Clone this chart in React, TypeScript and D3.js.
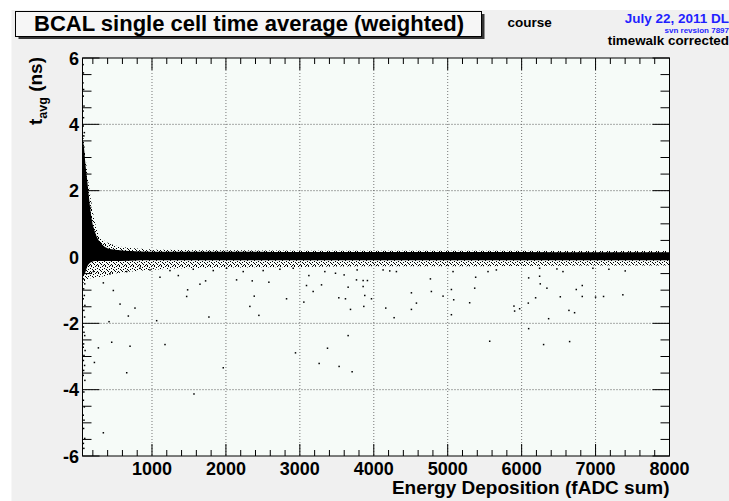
import * as d3 from "d3";

// dense core of the t_avg band (upper / lower edge)
const coreX = [60, 80, 100, 122, 150, 185, 230, 297, 432, 700, 1000, 2000, 3000, 4000, 5000, 6000, 7000, 8000];
const coreTop = [3.6, 3.3, 2.8, 2.35, 1.75, 1.14, 0.75, 0.45, 0.24, 0.18, 0.16, 0.16, 0.15, 0.15, 0.15, 0.15, 0.14, 0.14];
const coreBottom = [-0.6, -0.55, -0.45, -0.3, -0.2, -0.15, -0.12, -0.12, -0.12, -0.11, -0.1, -0.1, -0.1, -0.1, -0.1, -0.1, -0.1, -0.1];

// speckled halo around the core
const haloX = [60, 150, 300, 500, 800, 1200, 2000, 3000, 4000, 5000, 6000, 7000, 8000];
const haloTop = [3.9, 2.1, 0.6, 0.35, 0.26, 0.22, 0.2, 0.19, 0.19, 0.19, 0.19, 0.18, 0.18];
const haloBottom = [-0.8, -0.65, -0.6, -0.5, -0.42, -0.36, -0.32, -0.3, -0.28, -0.28, -0.27, -0.26, -0.26];

// isolated hits [energy, t_avg]
const outliers: [number, number][] = [
  [342, -0.78], [477, -1.01], [568, -1.42], [770, -1.54], [680, -1.78], [1356, -0.56],
  [1482, -0.99], [1469, -1.19], [1649, -0.82], [1725, -0.72], [1770, -1.81], [2144, -0.69],
  [2356, -0.72], [2383, -1.18], [2324, -1.49], [2446, -1.76], [2581, -0.76], [2820, -1.26],
  [455, -2.57], [703, -2.69], [1176, -2.64], [275, -2.74], [1063, -1.92], [419, -1.95],
  [3122, -0.56], [3090, -0.86], [3293, -0.84], [3180, -1.04], [3054, -1.36], [3653, -0.91],
  [3527, -1.23], [3617, -1.26], [3766, -0.69], [3856, -0.71], [3914, -0.71], [3856, -0.89],
  [3878, -1.16], [3865, -1.49], [3685, -1.58], [3969, -1.26], [4162, -1.54], [4275, -1.83],
  [4509, -1.08], [4577, -1.39], [4509, -1.58], [4766, -0.66], [4779, -1.04], [4937, -1.18],
  [5050, -0.98], [5081, -1.29], [5050, -1.74], [5297, -1.38], [5378, -0.61], [5365, -0.94],
  [5896, -1.48], [5905, -1.63], [5973, -1.56], [6095, -0.63], [6090, -1.39], [6189, -1.23],
  [6243, -0.58], [6252, -0.81], [6342, -0.94], [6365, -1.86], [6477, -0.36], [6559, -0.44],
  [6523, -1.2], [6640, -1.61], [6716, -1.68], [6739, -0.98], [6820, -0.86], [6820, -1.19],
  [7000, -1.21], [7108, -1.19], [7369, -1.14], [3653, -2.37], [3374, -2.75], [5568, -2.54],
  [6095, -2.16], [6297, -2.64], [6649, -2.55],
  [221, -3.18], [658, -3.49], [342, -5.3], [1568, -4.13], [1964, -3.34], [2941, -2.89],
  [3261, -3.21], [3531, -3.3], [3707, -3.46],
  [3338, -0.44], [3482, -0.49], [3599, -0.54], [3775, -0.39], [4126, -0.39], [4216, -0.42],
  [4306, -0.44], [5072, -0.44], [5545, -0.44], [5658, -0.39], [6243, -0.34], [6964, -0.34],
  [7180, -0.37], [7401, -0.42], [207, -0.44], [432, -0.51], [658, -0.44], [838, -0.34],
  [973, -0.39], [1108, -0.61], [1243, -0.41], [1558, -0.37], [1829, -0.41], [2009, -0.34],
  [2234, -0.44], [2504, -0.41], [2730, -0.37], [2910, -0.34],
];

// hits piled up at the lowest energies
const lowEdge: [number, number][] = [
  [72, -0.66], [90, -0.81], [75, -0.96], [85, -1.16], [70, -1.26], [92, -1.46], [78, -1.61],
  [88, -1.81], [72, -2.11], [80, -2.27], [90, -2.37], [75, -2.62], [70, -2.72], [95, -2.82],
  [80, -2.97], [72, -3.12], [88, -3.27], [75, -3.42], [70, -3.57], [92, -3.72], [78, -4.07],
  [72, -4.32], [85, -4.52], [70, -4.77], [80, -4.92], [75, -5.17], [90, -5.47], [72, -5.62],
  [78, -5.77], [68, 5.8], [72, 5.55], [66, 5.25], [75, 5.05], [70, 4.85], [80, 4.55],
  [68, 4.4], [74, 4.2], [70, 3.95], [85, 3.75], [78, 3.65],
];

const xTickValues = [1000, 2000, 3000, 4000, 5000, 6000, 7000, 8000];
const yTickValues = [-6, -4, -2, 0, 2, 4, 6];

const FONT = "'Liberation Sans', Arial, Helvetica, sans-serif";
const SPECKLE = [[0, 0], [4, 0], [2, 1], [6, 2], [1, 3], [4, 3], [2, 4], [3, 5], [6, 5], [0, 6], [5, 6]];

export default function App() {
  const left = 82.5;
  const right = 669.5;
  const top = 58;
  const bottom = 456;

  const x = d3.scaleLinear().domain([60, 8000]).range([left, right]);
  const y = d3.scaleLinear().domain([-6, 6]).range([bottom, top]);

  const coreArea = d3
    .area<number>()
    .x((d) => x(coreX[d]))
    .y0((d) => y(coreBottom[d]))
    .y1((d) => y(coreTop[d]))
    .curve(d3.curveMonotoneX);
  const haloArea = d3
    .area<number>()
    .x((d) => x(haloX[d]))
    .y0((d) => y(haloBottom[d]))
    .y1((d) => y(haloTop[d]))
    .curve(d3.curveMonotoneX);

  const xMinor = d3.range(200, 8001, 200).filter((v) => v % 1000 !== 0 && v > 60);
  const yMinor = d3.range(-6, 6.01, 0.5).filter((v) => v % 2 !== 0);

  return (
    <svg width={729} height={501} style={{ position: "absolute", left: 0, top: 0, display: "block" }}>
      <rect x={11.5} y={10} width={740} height={500} fill="#f0f0f0" />

      {/* title box */}
      <rect x={18.5} y={14} width={466} height={25} fill="#333" />
      <rect x={15.5} y={11.5} width={466} height={25} fill="#f6f6f6" stroke="#000" />
      <text x={249} y={31} textAnchor="middle" fontFamily={FONT} fontWeight="bold" fontSize={22}>
        BCAL single cell time average (weighted)
      </text>
      <text x={507.5} y={26.5} fontFamily={FONT} fontWeight="bold" fontSize={13.5}>
        course
      </text>
      <text x={729} y={23} textAnchor="end" fontFamily={FONT} fontWeight="bold" fontSize={13.5} fill="#1f1fff">
        July 22, 2011 DL
      </text>
      <text x={729} y={32.5} textAnchor="end" fontFamily={FONT} fontWeight="bold" fontSize={8} fill="#1f1fff">
        svn revsion 7897
      </text>
      <text x={729} y={45} textAnchor="end" fontFamily={FONT} fontWeight="bold" fontSize={13.4}>
        timewalk corrected
      </text>

      {/* plot area */}
      <defs>
        <pattern id="speckle" width={7} height={7} patternUnits="userSpaceOnUse">
          {SPECKLE.map(([px, py], i) => (
            <rect key={i} x={px} y={py} width={1} height={1} fill="#000" />
          ))}
        </pattern>
        <clipPath id="frame">
          <rect x={left} y={top} width={right - left} height={bottom - top} />
        </clipPath>
      </defs>
      <rect x={left} y={top} width={right - left} height={bottom - top} fill="#f6fbf8" />

      {/* grid */}
      {xTickValues.slice(0, -1).map((v) => (
        <line key={"gx" + v} x1={x(v)} x2={x(v)} y1={top} y2={bottom} stroke="#777" strokeDasharray="1,2" />
      ))}
      {yTickValues.slice(1, -1).map((v) => (
        <line key={"gy" + v} x1={left} x2={right} y1={y(v)} y2={y(v)} stroke="#555" strokeDasharray="1,2" />
      ))}

      <g clipPath="url(#frame)">
        <path d={haloArea(d3.range(haloX.length)) || ""} fill="url(#speckle)" />
        <path d={coreArea(d3.range(coreX.length)) || ""} fill="#000" />
        {outliers.concat(lowEdge).map(([ex, t], i) => (
          <rect key={i} x={x(ex) - 0.75} y={y(t) - 0.75} width={1.5} height={1.5} fill="#000" />
        ))}
      </g>

      {/* ticks */}
      {xTickValues.map((v) => (
        <g key={"tx" + v}>
          <line x1={x(v)} x2={x(v)} y1={bottom} y2={bottom - 12} stroke="#000" />
          <line x1={x(v)} x2={x(v)} y1={top} y2={top + 12} stroke="#000" />
          <text x={x(v)} y={474.5} textAnchor="middle" fontFamily={FONT} fontWeight="bold" fontSize={18}>
            {v}
          </text>
        </g>
      ))}
      {xMinor.map((v) => (
        <g key={"mx" + v}>
          <line x1={x(v)} x2={x(v)} y1={bottom} y2={bottom - 6} stroke="#000" />
          <line x1={x(v)} x2={x(v)} y1={top} y2={top + 6} stroke="#000" />
        </g>
      ))}
      {yTickValues.map((v) => (
        <g key={"ty" + v}>
          <line x1={left} x2={left + 17} y1={y(v)} y2={y(v)} stroke="#000" />
          <line x1={right} x2={right - 17} y1={y(v)} y2={y(v)} stroke="#000" />
          <text x={79} y={y(v) + 6.5} textAnchor="end" fontFamily={FONT} fontWeight="bold" fontSize={18}>
            {v}
          </text>
        </g>
      ))}
      {yMinor.map((v) => (
        <g key={"my" + v}>
          <line x1={left} x2={left + 9} y1={y(v)} y2={y(v)} stroke="#000" />
          <line x1={right} x2={right - 9} y1={y(v)} y2={y(v)} stroke="#000" />
        </g>
      ))}
      <rect x={left} y={top} width={right - left} height={bottom - top} fill="none" stroke="#000" />

      {/* axis titles */}
      <text x={669.5} y={494} textAnchor="end" fontFamily={FONT} fontWeight="bold" fontSize={19}>
        Energy Deposition (fADC sum)
      </text>
      <text transform="translate(42,57) rotate(-90)" textAnchor="end" fontFamily={FONT} fontWeight="bold" fontSize={19}>
        t<tspan fontSize={12.5} dy={5}>avg</tspan>
        <tspan dy={-5}> (ns)</tspan>
      </text>
    </svg>
  );
}
